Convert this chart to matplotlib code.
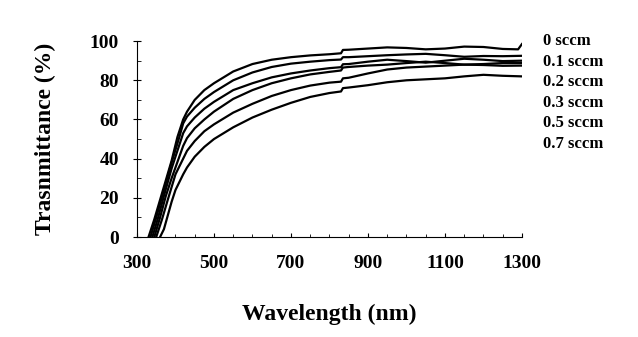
import matplotlib
matplotlib.use("Agg")
import matplotlib.pyplot as plt
from matplotlib.ticker import MultipleLocator

plt.rcParams['font.family'] = ['Liberation Serif', 'DejaVu Serif']
plt.rcParams['font.weight'] = 'bold'

labels = ['0 sccm', '0.1 sccm', '0.2 sccm', '0.3 sccm', '0.5 sccm', '0.7 sccm']
xticks = [300, 500, 700, 900, 1100, 1300]

# wavelength (nm) and transmittance (%), one pair per curve
wl_0 = [330, 345, 360, 375, 390, 405, 420, 430, 450, 475, 500, 550, 600, 650, 700, 750, 800, 830,
        835, 850, 900, 950, 1000, 1050, 1100, 1150, 1200, 1250, 1290, 1300]
t_0 = [0, 9, 19, 29, 39, 51, 60, 64, 70, 75, 78.5, 84.5, 88.3, 90.5, 91.8, 92.7, 93.3, 93.8,
       95.5, 95.6, 96.2, 96.8, 96.5, 95.8, 96.2, 97.2, 97, 96, 95.8, 98.5]

wl_1 = [335, 350, 370, 390, 410, 420, 430, 450, 475, 500, 550, 600, 650, 700, 750, 800, 830,
        835, 850, 900, 950, 1000, 1050, 1100, 1150, 1200, 1250, 1300]
t_1 = [0, 10, 24, 38, 51, 58, 61.5, 66, 70.5, 74, 80, 84, 86.8, 88.5, 89.5, 90.3, 90.6,
       91.8, 91.8, 92.3, 92.8, 93.2, 93.5, 92.8, 92, 92.4, 92.3, 92.5]

wl_2 = [340, 355, 370, 390, 410, 420, 430, 450, 475, 500, 550, 600, 650, 700, 750, 800, 830,
        835, 850, 900, 950, 1000, 1050, 1100, 1150, 1200, 1250, 1300]
t_2 = [0, 10, 21, 35, 47, 53, 56.5, 61, 65.5, 69, 75, 78.5, 81.5, 83.5, 85, 86.2, 86.7,
       88.2, 88.3, 89.5, 90.5, 89.8, 89, 90, 91, 90.5, 89.8, 90]

wl_3 = [345, 360, 375, 390, 410, 420, 430, 450, 475, 500, 550, 600, 650, 700, 750, 800, 830,
        835, 850, 900, 950, 1000, 1050, 1100, 1150, 1200, 1250, 1300]
t_3 = [0, 10, 21, 30, 41, 46.5, 50.5, 55.5, 60, 64, 70.5, 75, 78.5, 81, 83, 84.3, 85,
       86.5, 86.8, 87.5, 88, 88.8, 89.5, 88.8, 88, 88.3, 88.8, 88.8]

wl_5 = [350, 365, 380, 400, 420, 430, 450, 475, 500, 550, 600, 650, 700, 750, 800, 830,
        835, 850, 900, 950, 1000, 1050, 1100, 1150, 1200, 1250, 1300]
t_5 = [0, 9, 19, 32, 40, 44, 49, 54, 57.5, 63.5, 68, 72, 75, 77.3, 78.8, 79.3,
       81, 81.3, 83.5, 85.5, 86.5, 87, 87.5, 88, 87.8, 87.4, 87.5]

wl_7 = [360, 370, 380, 390, 400, 420, 430, 450, 475, 500, 550, 600, 650, 700, 750, 800, 830,
        835, 850, 900, 950, 1000, 1050, 1100, 1150, 1200, 1250, 1300]
t_7 = [0, 4, 11, 18, 24, 32, 35.5, 41, 46, 50, 56, 61, 65, 68.5, 71.5, 73.5, 74.3,
       76, 76.3, 77.5, 79, 80, 80.5, 81, 82, 82.8, 82.3, 82]

fig = plt.figure(figsize=(6.38, 3.37), dpi=100)
ax = fig.add_axes([0.2147, 0.2967, 0.6034, 0.5813])

for wl, t in [(wl_0, t_0), (wl_1, t_1), (wl_2, t_2), (wl_3, t_3), (wl_5, t_5), (wl_7, t_7)]:
    ax.plot(wl, t, color='black', lw=1.6)

ax.set_xlim(300, 1300)
ax.set_ylim(0, 100)
ax.spines['top'].set_visible(False)
ax.spines['right'].set_visible(False)
ax.set_xticks(xticks)
ax.xaxis.set_minor_locator(MultipleLocator(50))
ax.yaxis.set_major_locator(MultipleLocator(20))
ax.yaxis.set_minor_locator(MultipleLocator(10))
ax.tick_params(axis='y', which='major', direction='inout', length=6, pad=10, labelsize=14)
ax.tick_params(axis='y', which='minor', direction='in', length=3)
ax.tick_params(axis='x', which='major', direction='in', length=3, pad=13, labelsize=14)
ax.tick_params(axis='x', which='minor', direction='in', length=2)

ax.set_xlabel('Wavelength (nm)', fontsize=17, fontweight='bold', labelpad=23)
ax.set_ylabel('Trasnmittance (%)', fontsize=17, fontweight='bold', labelpad=24)

for i, lab in enumerate(labels):
    ax.text(1.055, 1.0 - i * 0.105, lab, transform=ax.transAxes, fontsize=12,
            fontweight='bold', va='center', ha='left')

fig.savefig('out.png', dpi=100)
